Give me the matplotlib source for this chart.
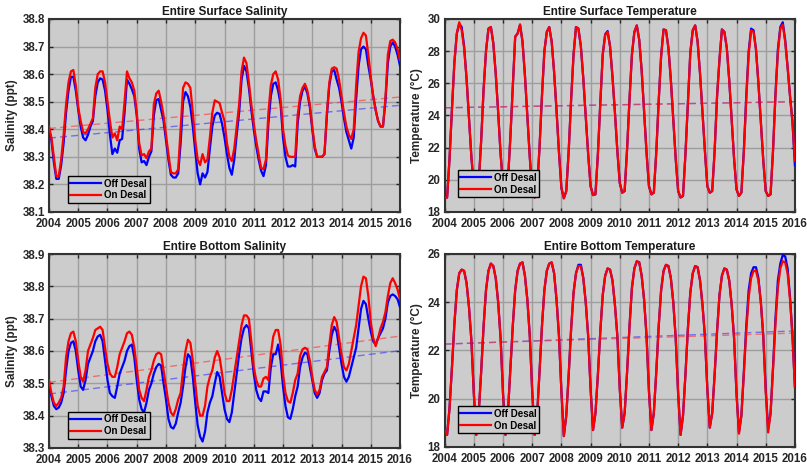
import numpy as np
import matplotlib
matplotlib.use("Agg")
import matplotlib.pyplot as plt

plt.rcParams['font.family'] = ['Liberation Sans', 'DejaVu Sans']
plt.rcParams['font.weight'] = 'bold'

# monthly samples, Jan 2004 .. Jan 2016
n_months = 145
labels = ['Off Desal', 'On Desal']
year_ticks = list(range(2004, 2017))

# Entire Surface Salinity (ppt)
ss_off = [
    38.40, 38.36, 38.28, 38.22, 38.22, 38.27, 38.35, 38.46, 38.54, 38.59, 38.59, 38.54,
    38.47, 38.41, 38.37, 38.36, 38.38, 38.41, 38.43, 38.52, 38.57, 38.585, 38.58, 38.54,
    38.47, 38.38, 38.31, 38.33, 38.315, 38.36, 38.365, 38.46, 38.58, 38.565, 38.545, 38.52,
    38.45, 38.33, 38.28, 38.285, 38.27, 38.30, 38.32, 38.45, 38.505, 38.51, 38.47, 38.43,
    38.36, 38.29, 38.235, 38.225, 38.225, 38.24, 38.35, 38.50, 38.535, 38.52, 38.48, 38.41,
    38.32, 38.24, 38.20, 38.24, 38.225, 38.245, 38.33, 38.41, 38.45, 38.46, 38.455, 38.42,
    38.37, 38.31, 38.26, 38.235, 38.29, 38.38, 38.46, 38.58, 38.63, 38.61, 38.55, 38.47,
    38.40, 38.34, 38.29, 38.25, 38.23, 38.27, 38.42, 38.52, 38.565, 38.57, 38.54, 38.49,
    38.37, 38.30, 38.265, 38.265, 38.27, 38.265, 38.42, 38.50, 38.54, 38.555, 38.53, 38.48,
    38.40, 38.33, 38.30, 38.30, 38.30, 38.31, 38.45, 38.56, 38.61, 38.615, 38.58, 38.55,
    38.50, 38.44, 38.39, 38.36, 38.33, 38.37, 38.51, 38.63, 38.69, 38.70, 38.69, 38.63,
    38.58, 38.52, 38.47, 38.43, 38.41, 38.41, 38.50, 38.64, 38.70, 38.715, 38.70, 38.67,
    38.63]
ss_on = [
    38.41, 38.37, 38.30, 38.23, 38.23, 38.29, 38.38, 38.49, 38.57, 38.61, 38.615, 38.56,
    38.48, 38.43, 38.39, 38.385, 38.40, 38.42, 38.44, 38.55, 38.60, 38.61, 38.61, 38.57,
    38.50, 38.43, 38.37, 38.385, 38.36, 38.41, 38.40, 38.50, 38.61, 38.585, 38.57, 38.54,
    38.46, 38.35, 38.305, 38.31, 38.295, 38.32, 38.33, 38.49, 38.53, 38.54, 38.50, 38.45,
    38.38, 38.31, 38.245, 38.24, 38.24, 38.255, 38.40, 38.55, 38.57, 38.565, 38.55, 38.46,
    38.36, 38.29, 38.27, 38.31, 38.28, 38.29, 38.37, 38.46, 38.505, 38.50, 38.495, 38.46,
    38.43, 38.35, 38.30, 38.285, 38.33, 38.41, 38.49, 38.61, 38.66, 38.64, 38.57, 38.49,
    38.42, 38.36, 38.31, 38.26, 38.255, 38.29, 38.46, 38.56, 38.60, 38.61, 38.58, 38.51,
    38.40, 38.34, 38.305, 38.30, 38.30, 38.30, 38.45, 38.52, 38.55, 38.565, 38.54, 38.49,
    38.41, 38.34, 38.30, 38.30, 38.30, 38.31, 38.46, 38.57, 38.62, 38.625, 38.62, 38.58,
    38.52, 38.46, 38.41, 38.38, 38.365, 38.40, 38.56, 38.68, 38.73, 38.75, 38.74, 38.67,
    38.59, 38.52, 38.47, 38.43, 38.41, 38.41, 38.51, 38.67, 38.72, 38.725, 38.715, 38.69,
    38.65]

# Entire Bottom Salinity (ppt)
bs_off = [
    38.49, 38.46, 38.43, 38.42, 38.425, 38.44, 38.47, 38.54, 38.60, 38.625, 38.63, 38.60,
    38.54, 38.49, 38.48, 38.51, 38.56, 38.58, 38.60, 38.63, 38.645, 38.65, 38.63, 38.57,
    38.51, 38.47, 38.46, 38.455, 38.49, 38.53, 38.55, 38.57, 38.60, 38.615, 38.62, 38.58,
    38.51, 38.45, 38.42, 38.41, 38.44, 38.48, 38.50, 38.53, 38.55, 38.56, 38.555, 38.50,
    38.45, 38.39, 38.365, 38.36, 38.375, 38.41, 38.44, 38.49, 38.55, 38.59, 38.58, 38.52,
    38.44, 38.37, 38.335, 38.32, 38.35, 38.41, 38.44, 38.46, 38.50, 38.535, 38.52, 38.47,
    38.42, 38.39, 38.38, 38.41, 38.47, 38.53, 38.59, 38.64, 38.67, 38.68, 38.67, 38.60,
    38.53, 38.48, 38.455, 38.445, 38.475, 38.475, 38.47, 38.55, 38.59, 38.59, 38.62, 38.57,
    38.49, 38.43, 38.395, 38.39, 38.42, 38.46, 38.49, 38.55, 38.58, 38.595, 38.59, 38.55,
    38.51, 38.47, 38.455, 38.47, 38.51, 38.53, 38.54, 38.60, 38.65, 38.675, 38.66, 38.61,
    38.56, 38.52, 38.505, 38.52, 38.55, 38.58, 38.61, 38.67, 38.73, 38.755, 38.745, 38.70,
    38.66, 38.63, 38.62, 38.64, 38.655, 38.67, 38.70, 38.75, 38.77, 38.775, 38.77, 38.76,
    38.735]
bs_on = [
    38.51, 38.47, 38.44, 38.43, 38.44, 38.455, 38.49, 38.58, 38.63, 38.655, 38.66, 38.63,
    38.57, 38.52, 38.505, 38.54, 38.60, 38.62, 38.64, 38.665, 38.67, 38.675, 38.665, 38.61,
    38.56, 38.53, 38.52, 38.52, 38.55, 38.59, 38.61, 38.63, 38.655, 38.66, 38.65, 38.61,
    38.55, 38.48, 38.455, 38.445, 38.48, 38.52, 38.54, 38.57, 38.59, 38.595, 38.59, 38.54,
    38.49, 38.44, 38.41, 38.40, 38.42, 38.45, 38.47, 38.54, 38.60, 38.635, 38.625, 38.57,
    38.50, 38.43, 38.40, 38.40, 38.43, 38.49, 38.52, 38.54, 38.58, 38.60, 38.58, 38.53,
    38.47, 38.445, 38.445, 38.48, 38.53, 38.58, 38.63, 38.68, 38.71, 38.71, 38.70, 38.63,
    38.55, 38.51, 38.49, 38.49, 38.515, 38.52, 38.51, 38.59, 38.645, 38.665, 38.665, 38.62,
    38.53, 38.47, 38.445, 38.44, 38.47, 38.51, 38.53, 38.585, 38.605, 38.61, 38.605, 38.57,
    38.52, 38.48, 38.465, 38.48, 38.52, 38.535, 38.55, 38.62, 38.68, 38.705, 38.69, 38.64,
    38.59, 38.55, 38.54, 38.56, 38.60, 38.64, 38.68, 38.74, 38.80, 38.83, 38.825, 38.77,
    38.69, 38.64, 38.615, 38.64, 38.67, 38.69, 38.72, 38.77, 38.81, 38.825, 38.81, 38.79,
    38.76]

# Entire Surface Temperature (degC)
st_off = [
    18.9, 18.9, 21.3, 24.4, 27.3, 29.1, 29.7, 29.5, 28.3, 26.3, 23.9, 21.4,
    19.6, 19.0, 19.8, 22.4, 25.6, 28.0, 29.4, 29.5, 28.5, 26.6, 24.2, 21.6,
    19.7, 19.0, 19.9, 22.6, 25.8, 28.9, 29.1, 29.65, 28.6, 26.5, 24.0, 21.4,
    19.3, 18.9, 19.4, 22.0, 25.2, 28.0, 29.2, 29.5, 28.6, 26.7, 24.3, 21.7,
    19.5, 18.85, 19.3, 21.8, 25.0, 27.8, 29.5, 29.4, 28.3, 26.3, 24.0, 21.6,
    19.6, 19.05, 19.1, 21.6, 24.8, 27.8, 29.05, 29.25, 28.3, 26.4, 24.2, 21.8,
    19.8, 19.2, 19.3, 21.9, 25.0, 27.8, 29.2, 29.6, 28.7, 26.8, 24.3, 21.7,
    19.6, 19.1, 19.2, 21.7, 24.9, 27.7, 29.35, 29.3, 28.2, 26.2, 23.8, 21.3,
    19.3, 18.9, 19.0, 21.6, 24.8, 27.9, 29.3, 29.6, 28.6, 26.6, 24.2, 21.8,
    19.6, 19.2, 19.3, 21.8, 25.2, 27.5, 29.35, 29.2, 28.2, 26.2, 23.8, 21.3,
    19.4, 19.0, 19.2, 21.8, 25.2, 28.0, 29.4, 29.3, 28.1, 26.0, 23.6, 21.2,
    19.3, 19.0, 19.1, 21.8, 25.3, 28.1, 29.5, 29.8, 28.7, 27.0, 25.2, 23.6,
    20.9]
st_on = [
    18.9, 18.9, 21.3, 24.4, 27.3, 29.1, 29.8, 29.3, 28.2, 26.3, 23.9, 21.4,
    19.6, 19.0, 19.8, 22.4, 25.6, 28.0, 29.4, 29.5, 28.5, 26.6, 24.2, 21.6,
    19.7, 19.0, 19.9, 22.6, 25.8, 28.9, 29.1, 29.65, 28.6, 26.5, 24.0, 21.4,
    19.3, 18.9, 19.4, 22.0, 25.2, 28.0, 29.2, 29.5, 28.6, 26.7, 24.3, 21.7,
    19.5, 18.85, 19.3, 21.8, 25.0, 27.8, 29.5, 29.4, 28.3, 26.3, 24.0, 21.6,
    19.6, 19.05, 19.1, 21.6, 24.8, 27.8, 29.0, 29.2, 28.3, 26.4, 24.2, 21.8,
    19.8, 19.2, 19.3, 21.9, 25.0, 27.8, 29.2, 29.6, 28.7, 26.8, 24.3, 21.7,
    19.6, 19.1, 19.2, 21.7, 24.9, 27.7, 29.35, 29.3, 28.2, 26.2, 23.8, 21.3,
    19.3, 18.9, 19.0, 21.6, 24.8, 27.9, 29.3, 29.6, 28.6, 26.6, 24.2, 21.8,
    19.6, 19.2, 19.3, 21.8, 25.2, 27.5, 29.35, 29.2, 28.2, 26.2, 23.8, 21.3,
    19.4, 19.0, 19.2, 21.7, 25.0, 27.8, 29.3, 29.2, 28.1, 26.0, 23.6, 21.2,
    19.3, 19.0, 19.1, 21.8, 25.2, 27.9, 29.4, 29.65, 28.6, 27.0, 25.2, 23.6,
    21.2]

# Entire Bottom Temperature (degC)
bt_off = [
    18.7, 18.5, 19.6, 21.3, 23.1, 24.5, 25.2, 25.35, 25.3, 24.8, 23.8, 22.4,
    20.2, 18.5, 19.4, 21.1, 23.0, 24.5, 25.3, 25.6, 25.5, 25.0, 24.0, 22.5,
    20.2, 18.5, 19.4, 21.2, 23.0, 24.5, 25.3, 25.6, 25.65, 25.1, 24.1, 22.6,
    20.3, 18.5, 19.3, 21.1, 23.0, 24.5, 25.3, 25.6, 25.65, 25.2, 24.1, 22.6,
    20.3, 18.45, 19.3, 21.0, 22.9, 24.4, 25.2, 25.55, 25.55, 25.0, 24.0, 22.6,
    20.4, 18.7, 19.4, 21.0, 22.8, 24.3, 25.1, 25.4, 25.35, 24.9, 23.9, 22.6,
    20.4, 18.8, 19.4, 21.1, 23.0, 24.6, 25.4, 25.7, 25.65, 25.1, 24.1, 22.6,
    20.3, 18.7, 19.4, 21.1, 23.0, 24.5, 25.3, 25.55, 25.5, 25.0, 24.0, 22.5,
    20.2, 18.5, 19.3, 21.0, 22.9, 24.4, 25.2, 25.5, 25.45, 24.9, 23.9, 22.6,
    20.4, 18.8, 19.4, 21.0, 22.8, 24.3, 25.1, 25.4, 25.35, 24.9, 23.9, 22.5,
    20.2, 18.6, 19.3, 21.1, 23.0, 24.5, 25.2, 25.45, 25.45, 25.0, 24.0, 22.6,
    20.4, 18.75, 19.4, 21.3, 23.3, 24.9, 25.6, 25.95, 25.9, 25.4, 24.2, 22.6,
    20.5]
bt_on = [
    18.7, 18.5, 19.6, 21.3, 23.1, 24.5, 25.2, 25.35, 25.3, 24.8, 23.8, 22.4,
    20.2, 18.5, 19.4, 21.1, 23.0, 24.5, 25.3, 25.6, 25.5, 25.0, 24.0, 22.5,
    20.2, 18.5, 19.4, 21.2, 23.0, 24.5, 25.3, 25.6, 25.65, 25.1, 24.1, 22.6,
    20.3, 18.5, 19.3, 21.1, 23.0, 24.5, 25.3, 25.6, 25.65, 25.2, 24.1, 22.6,
    20.3, 18.45, 19.3, 21.0, 22.9, 24.4, 25.2, 25.5, 25.5, 25.0, 24.0, 22.6,
    20.4, 18.7, 19.4, 21.0, 22.8, 24.3, 25.1, 25.4, 25.35, 24.9, 23.9, 22.6,
    20.4, 18.8, 19.4, 21.1, 23.0, 24.6, 25.4, 25.7, 25.65, 25.1, 24.1, 22.6,
    20.3, 18.7, 19.4, 21.1, 23.0, 24.5, 25.3, 25.55, 25.5, 25.0, 24.0, 22.5,
    20.2, 18.5, 19.3, 21.0, 22.9, 24.4, 25.2, 25.5, 25.45, 24.9, 23.9, 22.6,
    20.4, 18.8, 19.4, 21.0, 22.8, 24.3, 25.1, 25.4, 25.35, 24.9, 23.9, 22.5,
    20.2, 18.55, 19.3, 21.0, 22.8, 24.2, 25.0, 25.3, 25.3, 24.9, 24.0, 22.6,
    20.3, 18.6, 19.4, 21.2, 23.1, 24.6, 25.4, 25.7, 25.65, 25.2, 24.1, 22.6,
    20.5]

# dashed trend lines: value at 2004 and at 2016
ss_trend_off = [38.368, 38.487]
ss_trend_on = [38.403, 38.517]
bs_trend_off = [38.467, 38.601]
bs_trend_on = [38.503, 38.646]
st_trend_off = [24.48, 24.86]
st_trend_on = [24.48, 24.85]
bt_trend_off = [22.26, 22.81]
bt_trend_on = [22.27, 22.72]

time = 2004 + np.arange(n_months) / 12.0

panels = [
    ("Entire Surface Salinity", "Salinity (ppt)", ss_off, ss_on, ss_trend_off, ss_trend_on,
     (38.1, 38.8), np.round(np.arange(38.1, 38.81, 0.1), 1), '%.1f',
     [0.0607, 0.548, 0.435, 0.4115], (0.054, 0.047)),
    ("Entire Surface Temperature", "Temperature (\u00b0C)", st_off, st_on, st_trend_off, st_trend_on,
     (18, 30), np.arange(18, 31, 2), '%d',
     [0.551, 0.548, 0.434, 0.4115], (0.037, 0.078)),
    ("Entire Bottom Salinity", "Salinity (ppt)", bs_off, bs_on, bs_trend_off, bs_trend_on,
     (38.3, 38.9), np.round(np.arange(38.3, 38.91, 0.1), 1), '%.1f',
     [0.0607, 0.0448, 0.435, 0.4136], (0.054, 0.047)),
    ("Entire Bottom Temperature", "Temperature (\u00b0C)", bt_off, bt_on, bt_trend_off, bt_trend_on,
     (18, 26), np.arange(18, 27, 2), '%d',
     [0.551, 0.0470, 0.434, 0.4115], (0.037, 0.072)),
]

fig = plt.figure(figsize=(8.07, 4.69), dpi=100)

for title, ylab, off, on, tr_off, tr_on, ylim, yticks, fmt, pos, leg_xy in panels:
    ax = fig.add_axes(pos)
    ax.set_facecolor('#cccccc')
    ax.plot(time, off, color='#0000ff', lw=1.6, label=labels[0], zorder=3)
    ax.plot(time, on, color='#ff0000', lw=1.6, label=labels[1], zorder=4)
    ax.plot([2004, 2016], tr_off, color='#3333ff', lw=1.0, ls=(0, (5, 3)), alpha=0.6, zorder=2)
    ax.plot([2004, 2016], tr_on, color='#ff3333', lw=1.0, ls=(0, (5, 3)), alpha=0.6, zorder=2)

    ax.set_xlim(2004, 2016)
    ax.set_ylim(*ylim)
    ax.set_xticks(year_ticks)
    ax.set_xticklabels([str(y) for y in year_ticks])
    ax.set_yticks(yticks)
    ax.set_yticklabels([fmt % v for v in yticks])
    ax.grid(True, color='#9e9e9e', lw=1.0)
    ax.set_axisbelow(True)
    ax.tick_params(direction='in', top=True, right=True, length=3, width=1,
                   labelsize=8.3, colors='#262626')
    ax.tick_params(axis='x', pad=4)
    ax.tick_params(axis='y', pad=3)
    for s in ax.spines.values():
        s.set_color('#333333')
        s.set_linewidth(1.5)

    ax.set_title(title, fontsize=8.5, fontweight='bold', pad=3, color='#1a1a1a')
    ax.set_ylabel(ylab, fontsize=8.5, fontweight='bold', color='#262626', labelpad=3)

    leg = ax.legend(loc='lower left', bbox_to_anchor=leg_xy, fontsize=7, frameon=True,
                    fancybox=False, edgecolor='black', facecolor='#cccccc', framealpha=1,
                    handlelength=3.2, handletextpad=0.3, borderpad=0.25, labelspacing=0.2,
                    borderaxespad=0)
    leg.get_frame().set_linewidth(1.0)
    for t in leg.get_texts():
        t.set_fontweight('bold')

fig.savefig('out.png', dpi=100, facecolor='white')
